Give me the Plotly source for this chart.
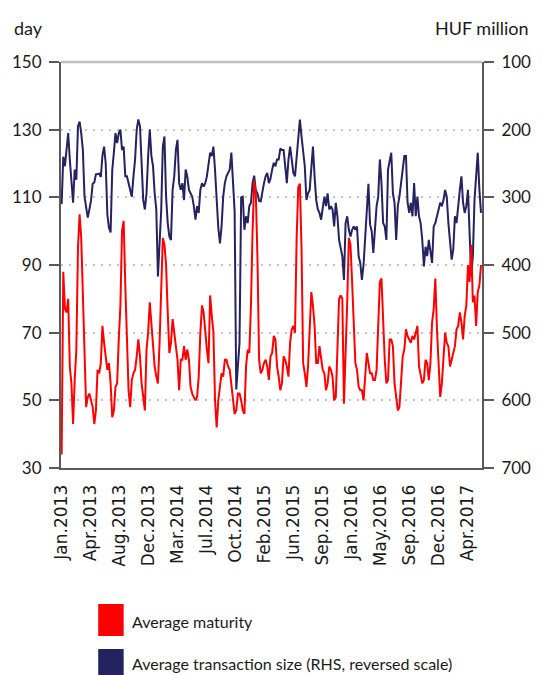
import plotly.graph_objects as go

TICK_LABELS = ["Jan.2013", "Apr.2013", "Aug.2013", "Dec.2013", "Mar.2014", "Jul.2014",
               "Oct.2014", "Feb.2015", "Jun.2015", "Sep.2015", "Jan.2016", "May.2016",
               "Sep.2016", "Dec.2016", "Apr.2017"]

# Average maturity (days, left axis)
avg_maturity = [
    34, 88, 77, 76, 80, 60, 55, 43, 56, 65, 95, 105, 98, 80, 59, 48, 51, 52, 50, 48,
    43, 47, 59, 58, 61, 72, 67, 63, 59, 61, 55, 45, 47, 54, 55, 68, 78, 100, 103, 84,
    67, 53, 48, 56, 58, 59, 63, 68, 63, 55, 51, 47, 65, 70, 79, 72, 64, 60, 57, 55,
    67, 85, 98, 96, 90, 76, 64, 67, 74, 70, 65, 62, 53, 62, 62, 66, 62, 65, 62, 54,
    52, 51, 50, 51, 57, 70, 78,
    76, 70, 65, 61, 81, 75, 70, 50, 42, 50, 55, 58, 57, 62, 62, 60, 59, 55, 50, 46,
    47, 52, 52, 50, 47, 46, 60, 65, 64, 78, 100, 115, 111, 92, 62, 58, 59, 61, 62, 60,
    56, 63, 64, 69, 68, 60, 57, 53, 55, 63, 62, 60, 57, 67, 71, 72, 70, 98, 113, 114,
    95, 61, 58, 54, 60, 72, 82, 78, 72, 61, 61, 66, 62, 59, 58, 53, 55, 60,
    59, 57, 50, 51, 65, 80, 81, 80, 49, 62, 79, 98, 96, 85, 75, 61, 59, 54, 53, 53,
    50, 56, 64, 61, 58, 58, 56, 56, 59, 72, 85, 86, 71, 62, 55, 56, 68, 68, 66, 55,
    51, 47, 48, 55, 63, 65, 71, 69, 68, 67, 69, 68, 70, 72, 60, 57, 55, 56, 62, 61,
    56, 61, 73, 77, 86, 71, 59, 51, 55, 63, 70, 67, 66, 60, 62, 64, 66, 71, 72, 76,
    73, 68, 75, 78, 90, 85, 96, 79, 81, 72, 82, 84, 90,
]

# Average transaction size (HUF million, right axis, reversed)
avg_size = [
    310, 240, 254, 230, 205, 244, 284, 308, 259, 274, 195, 188, 205, 230, 299, 313, 330, 318, 305, 280,
    278, 266, 266, 265, 270, 238, 225, 250, 325, 345, 352, 260, 234, 205, 220, 205, 200, 230, 225, 269,
    269, 279, 289, 299, 269, 244, 200, 185, 195, 244, 304, 318, 294, 239, 200, 239, 254, 294, 318, 417,
    375, 320, 225, 210, 299, 338, 358, 363, 289, 269, 230, 215, 279, 289, 279, 304, 259, 269, 289, 294,
    299, 313, 333, 313, 323, 289, 279,
    284, 279, 269, 254, 234, 239, 225, 260, 310, 345, 368, 343, 299, 279, 269, 264, 259, 234, 274, 320,
    584, 545, 515, 300, 299, 348, 328, 338, 313, 308, 279, 268, 290, 294, 305, 306, 289, 279, 269, 264,
    279, 272, 259, 249, 254, 244, 244, 228, 230, 230, 254, 279, 244, 225, 244, 264, 269, 239, 220, 185,
    210, 230, 254, 304, 294, 289, 259, 225, 269, 304, 318, 323, 333, 318, 299, 313, 294, 318,
    313, 318, 343, 308, 328, 363, 377, 387, 422, 338, 328, 348, 358, 348, 343, 348, 343, 387, 397, 422,
    400, 358, 304, 280, 340, 350, 382, 350, 313, 299, 244, 279, 338, 343, 363, 259, 244, 234, 294, 308,
    363, 313, 299, 279, 254, 239, 239, 308, 323, 308, 328, 279, 328, 299, 328, 338, 363, 402, 373, 387,
    363, 382, 397, 343, 338, 328, 318, 308, 313, 304, 289, 299, 338, 368, 392, 377, 328, 338, 308, 289,
    269, 308, 323, 313, 289, 358, 417, 387, 304, 269, 234, 289, 323,
]

n = len(avg_maturity)
idx = list(range(n))
LABEL_EVERY = 17.75
tickvals = [k * LABEL_EVERY for k in range(len(TICK_LABELS))]

FONT = "Lato"
AX = "#5a5a5a"
TXT = "#1a1a1a"
RED = "#ff0000"
NAVY = "#25235f"

fig = go.Figure()
fig.add_trace(go.Scatter(x=idx, y=avg_size, yaxis="y", mode="lines",
                         line=dict(color=NAVY, width=2),
                         name="Average transaction size (RHS, reversed scale)", showlegend=False))
fig.add_trace(go.Scatter(x=idx, y=avg_maturity, yaxis="y2", mode="lines",
                         line=dict(color=RED, width=2),
                         name="Average maturity", showlegend=False))

W, H = 543, 675
L, R, T, B = 61, 52, 62, 207
pw, ph = W - L - R, H - T - B


def px(x):
    return (x - L) / pw


def py(y):
    return (H - B - y) / ph


fig.update_layout(
    width=W, height=H, autosize=False,
    margin=dict(l=L, r=R, t=T, b=B, pad=0),
    paper_bgcolor="white", plot_bgcolor="white",
    font=dict(family=FONT, size=16, color=TXT),
    showlegend=False,
    xaxis=dict(range=[-0.4, n - 0.4], tickmode="array", tickvals=tickvals, ticktext=TICK_LABELS,
               tickangle=-90, ticks="", showgrid=False, zeroline=False,
               showline=True, linecolor=AX, linewidth=2,
               tickfont=dict(family="DejaVu Sans", size=17, color=TXT),
               ticklabelstandoff=8),
    yaxis=dict(range=[700, 100], tick0=100, dtick=100, side="right",
               ticks="outside", ticklen=10, tickcolor=AX, tickwidth=1.5,
               showline=True, linecolor=AX, linewidth=2, zeroline=False,
               showgrid=True, gridcolor="#c4c4c4", gridwidth=1.5, griddash="2px,6px",
               tickfont=dict(family=FONT, size=17, color=TXT), ticklabelstandoff=4),
    yaxis2=dict(range=[30, 150], tick0=30, dtick=20, side="left", overlaying="y",
                ticks="outside", ticklen=10, tickcolor=AX, tickwidth=1.5,
                showline=True, linecolor=AX, linewidth=2, zeroline=False, showgrid=False,
                tickfont=dict(family=FONT, size=17, color=TXT), ticklabelstandoff=4),
)

shapes = [
    dict(type="line", xref="paper", yref="paper", x0=0, x1=1, y0=1, y1=1,
         line=dict(color="#bfbfbf", width=2.5)),
    dict(type="rect", xref="paper", yref="paper", x0=px(99), x1=px(125), y0=py(636), y1=py(604),
         fillcolor=RED, line=dict(width=0)),
    dict(type="rect", xref="paper", yref="paper", x0=px(99), x1=px(125), y0=py(681), y1=py(649),
         fillcolor=NAVY, line=dict(width=0)),
]
annotations = [
    dict(text="day", xref="paper", yref="paper", x=px(11), y=py(28), xanchor="left", yanchor="middle",
         showarrow=False, font=dict(family=FONT, size=18, color=TXT)),
    dict(text="HUF million", xref="paper", yref="paper", x=px(541), y=py(28), xanchor="right",
         yanchor="middle", showarrow=False, font=dict(family=FONT, size=18, color=TXT)),
    dict(text="Average maturity", xref="paper", yref="paper", x=px(131), y=py(621), xanchor="left",
         yanchor="middle", showarrow=False, font=dict(family=FONT, size=16, color=TXT)),
    dict(text="Average transaction size (RHS, reversed scale)", xref="paper", yref="paper",
         x=px(131), y=py(663), xanchor="left", yanchor="middle", showarrow=False,
         font=dict(family=FONT, size=16, color=TXT)),
]
fig.update_layout(shapes=shapes, annotations=annotations)

fig.write_html("out.html", config={"displayModeBar": False},
               post_script="document.body.style.margin='0';document.body.style.overflow='hidden';")
